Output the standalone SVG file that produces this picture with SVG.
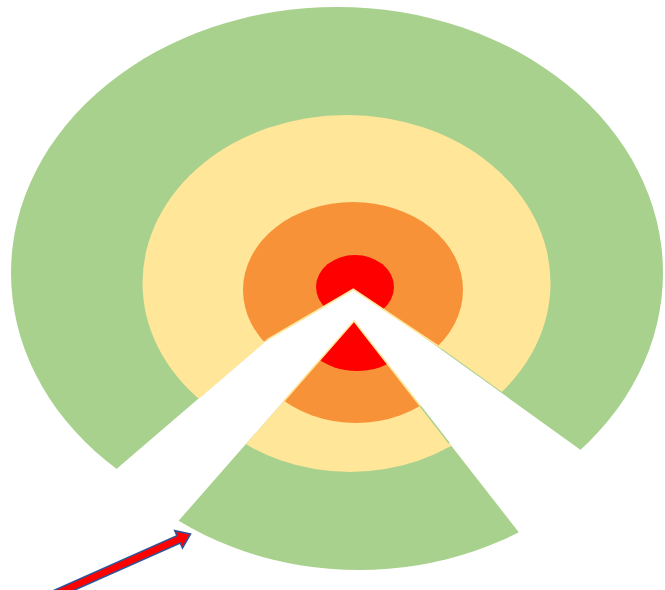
<svg xmlns="http://www.w3.org/2000/svg" width="665" height="590" viewBox="0 0 665 590">
  <style>
    .g{fill:#A9D18E}
    .y{fill:#FFE699}
    .o{fill:#F79238}
    .r{fill:#FF0000}
    .pale{stroke:#FFE699;stroke-width:1.6;fill:none}
    .thin{stroke:#A9D18E;stroke-width:1.4;fill:none}
  </style>
  <defs>
    <clipPath id="cutGreen"><polygon points="340.2,276.9 -385.6,900 -2000,900 -2000,-1000 2500,-1000 2500,900 1206.2,900"/></clipPath>
    <clipPath id="cutYellow"><polygon points="341.4,276.4 -385.1,900 -2000,900 -2000,-1000 2500,-1000 2500,900 1208.2,900"/></clipPath>
    <clipPath id="cutInner"><polygon points="353.3,289.3 -691,900 -2000,900 -2000,-1000 2500,-1000 2500,900 1269,900"/></clipPath>
    <clipPath id="sector"><polygon points="354,321 21.2,700 649.6,700"/></clipPath>
  </defs>
  <rect width="665" height="590" fill="#FFFFFF"/>
  <g id="main-rings">
    <ellipse class="g" cx="337" cy="273" rx="326" ry="266" clip-path="url(#cutGreen)"/>
    <ellipse class="y" cx="346.5" cy="283" rx="204" ry="168" clip-path="url(#cutYellow)"/>
    <ellipse class="o" cx="353" cy="290" rx="110" ry="88" clip-path="url(#cutInner)"/>
    <ellipse class="r" cx="355" cy="287" rx="39" ry="32" clip-path="url(#cutInner)"/>
    <polyline class="pale" points="266.7,340 353.3,289.3 441.8,348.3"/>
  </g>
  <g id="sector-piece">
    <ellipse class="g" cx="359" cy="321" rx="302" ry="249" clip-path="url(#sector)"/>
    <ellipse class="y" cx="350" cy="321" rx="180" ry="151" clip-path="url(#sector)"/>
    <ellipse class="o" cx="356" cy="321" rx="116" ry="102" clip-path="url(#sector)"/>
    <ellipse class="r" cx="357" cy="321" rx="60" ry="50" clip-path="url(#sector)"/>
    <polyline class="pale" points="284,401 354,321 420.3,406"/>
    <line class="thin" x1="420.3" y1="406" x2="449" y2="443"/>
  </g>
  <g id="connectors">
    <g id="arrow" transform="translate(190.5,534) rotate(-24)">
      <polygon points="0,0 -13,-9.5 -13,-4 -170,-4 -170,4 -13,4 -13,9.5" fill="#FF0000" stroke="#2F5597" stroke-width="1.6" stroke-linejoin="miter"/>
    </g>
  </g>
</svg>
